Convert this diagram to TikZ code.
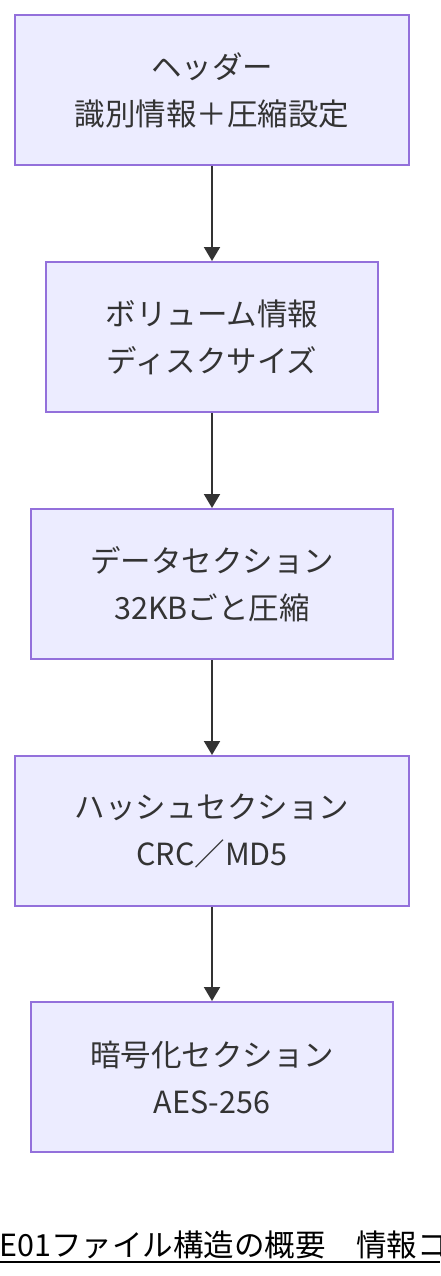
\documentclass[tikz,border=0pt]{standalone}
\usepackage{fontspec}
\setmainfont{Noto Sans CJK JP}
\usetikzlibrary{arrows.meta}
\definecolor{boxfill}{HTML}{ECECFF}
\definecolor{boxline}{HTML}{9370DB}
\definecolor{txt}{HTML}{333333}
\tikzset{
  stage/.style={draw=boxline, fill=boxfill, line width=2pt, text=txt,
    align=center, inner sep=0pt,
    font=\fontsize{30.5}{47}\selectfont},
  flow/.style={draw=txt, line width=2pt, -{Triangle[length=14pt,width=16pt]}},
}
\begin{document}
\begin{tikzpicture}[x=1pt,y=-1pt]
\useasboundingbox (0,0) rectangle (440,1276);
\clip (0,0) rectangle (440,1276);
\node[stage, minimum width=394pt, minimum height=150pt] (h) at (212,90) {ヘッダー\\識別情報＋圧縮設定};
\node[stage, minimum width=332pt, minimum height=150pt] (v) at (212,337) {ボリューム情報\\ディスクサイズ};
\node[stage, minimum width=362pt, minimum height=150pt] (d) at (212,584) {データセクション\\32KBごと圧縮};
\node[stage, minimum width=394pt, minimum height=150pt] (s) at (212,831) {ハッシュセクション\\CRC／MD5};
\node[stage, minimum width=362pt, minimum height=150pt] (e) at (212,1077) {暗号化セクション\\AES-256};
\draw[flow] (h) -- (v);
\draw[flow] (v) -- (d);
\draw[flow] (d) -- (s);
\draw[flow] (s) -- (e);
\node[anchor=base west, inner sep=0pt, font=\fontsize{30.5}{38}\selectfont, text=black] (t) at (-1,1256) {E01ファイル構造の概要　情報コ};
\draw[line width=2pt, black] (0,1262) -- (440,1262);
\end{tikzpicture}
\end{document}
